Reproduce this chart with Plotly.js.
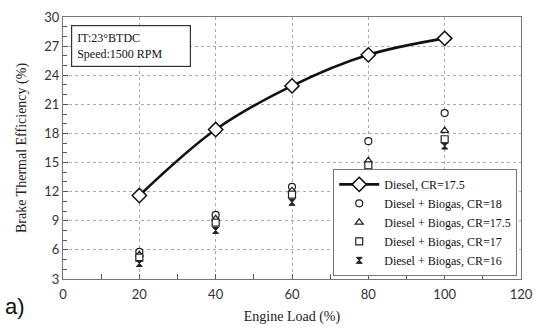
<!DOCTYPE html>
<html>
<head>
<meta charset="utf-8">
<script src="https://cdn.plot.ly/plotly-3.0.1.min.js"></script>
<style>html,body{margin:0;padding:0;background:#fff;}#chart{width:537px;height:327px;}</style>
</head>
<body>
<div id="chart"></div>
<script>
const loads = [20, 40, 60, 80, 100];
const dieselCR175 = [11.6, 18.4, 22.9, 26.1, 27.8];
const biogasCR18 = [5.8, 9.6, 12.5, 17.2, 20.1];
const biogasCR175 = [5.5, 9.2, 12.1, 15.2, 18.3];
const biogasCR17 = [5.2, 8.8, 11.7, 14.7, 17.4];
const biogasCR16 = [4.6, 8.0, 10.9, 14.0, 16.7];
const seriesNames = ['Diesel, CR=17.5', 'Diesel + Biogas, CR=18', 'Diesel + Biogas, CR=17.5', 'Diesel + Biogas, CR=17', 'Diesel + Biogas, CR=16'];
const xTicks = [0, 20, 40, 60, 80, 100, 120];
const yTicks = [3, 6, 9, 12, 15, 18, 21, 24, 27, 30];

const serif = "'Liberation Serif'";
const mk = (sym, size) => ({symbol: sym, size: size, color: '#fff', line: {color: '#222', width: 1.2}});

const traces = [
  {x: loads, y: dieselCR175, name: seriesNames[0], mode: 'lines+markers',
   line: {color: '#111', width: 2.6, shape: 'spline'},
   marker: {symbol: 'diamond', size: 11, color: '#fff', line: {color: '#111', width: 1.5}}},
  {x: loads, y: biogasCR18, name: seriesNames[1], mode: 'markers', marker: mk('circle', 7)},
  {x: loads, y: biogasCR175, name: seriesNames[2], mode: 'markers', marker: mk('triangle-up', 7)},
  {x: loads, y: biogasCR17, name: seriesNames[3], mode: 'markers', marker: mk('square', 7)},
  {x: loads, y: biogasCR16, name: seriesNames[4], mode: 'markers', marker: {symbol: 'hourglass', size: 6, color: '#222', line: {color: '#222', width: 1}}}
];

const layout = {
  width: 537, height: 327,
  margin: {l: 63, r: 16, t: 17, b: 48},
  paper_bgcolor: '#fff', plot_bgcolor: '#fff',
  font: {family: serif},
  showlegend: true,
  legend: {x: 0.59, y: 0.012, xanchor: 'left', yanchor: 'bottom',
    bgcolor: '#fff', bordercolor: '#777', borderwidth: 1,
    font: {family: serif, size: 12, color: '#111'}, tracegroupgap: 0, itemwidth: 40},
  xaxis: {range: [0, 120], tickvals: xTicks, ticktext: xTicks.map(String),
    showgrid: true, gridcolor: '#aaa', griddash: '3px,3px', gridwidth: 1,
    zeroline: false, showline: true, linecolor: '#777', linewidth: 1, mirror: true,
    ticks: 'inside', ticklen: 5, tickcolor: '#555', ticklabelstandoff: 3,
    minor: {dtick: 10, ticks: 'inside', ticklen: 5, tickcolor: '#555', showgrid: false},
    tickfont: {family: "Lato", size: 13, color: '#333'},
    title: {text: 'Engine Load (%)', font: {family: serif, size: 14, color: '#222'}, standoff: 10}},
  yaxis: {range: [3, 30], tickvals: yTicks, ticktext: yTicks.map(String),
    showgrid: true, gridcolor: '#aaa', griddash: '3px,3px', gridwidth: 1,
    zeroline: false, showline: true, linecolor: '#777', linewidth: 1, mirror: true,
    ticks: 'inside', ticklen: 5, tickcolor: '#555',
    minor: {dtick: 1, ticks: 'inside', ticklen: 4, tickcolor: '#555', showgrid: false},
    tickfont: {family: "Lato", size: 13, color: '#333'},
    title: {text: 'Brake Thermal Efficiency (%)', font: {family: serif, size: 14, color: '#222'}, standoff: 14}},
  annotations: [
    {xref: 'paper', yref: 'paper', x: 0.018, y: 0.968, xanchor: 'left', yanchor: 'top',
     text: 'IT:23°BTDC<br>Speed:1500 RPM', align: 'left', showarrow: false,
     font: {family: serif, size: 12, color: '#111'},
     bordercolor: '#333', borderwidth: 1.2, borderpad: 5, bgcolor: '#fff', width: 108},
    {xref: 'paper', yref: 'paper', x: -0.132, y: -0.16, xanchor: 'left', yanchor: 'bottom',
     text: 'a)', showarrow: false, font: {family: "'Liberation Sans'", size: 22, color: '#111'}}
  ]
};

Plotly.newPlot('chart', traces, layout, {displayModeBar: false, staticPlot: true});
</script>
</body>
</html>
